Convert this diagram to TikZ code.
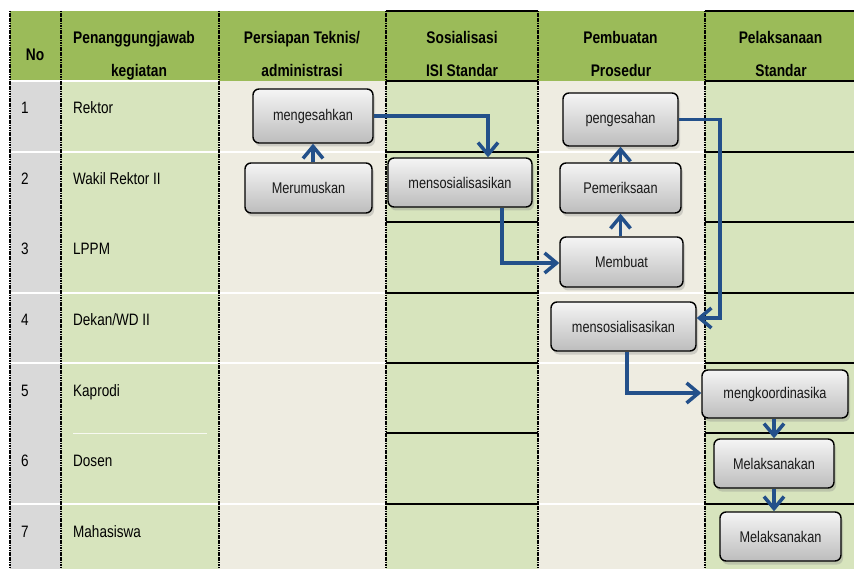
\documentclass[tikz,border=0pt]{standalone}
\usepackage{fontspec}
\setmainfont{Liberation Sans}[FakeStretch=0.82]
\usetikzlibrary{arrows.meta,shadows,calc}
\definecolor{hdrgreen}{HTML}{9BBB59}
\definecolor{lightgreen}{HTML}{D7E4BD}
\definecolor{cream}{HTML}{EEECE1}
\definecolor{greycol}{HTML}{D9D9D9}
\definecolor{flowblue}{HTML}{23508A}

\begin{document}
\begin{tikzpicture}[x=1pt,y=-1pt,
  hdr/.style={font=\bfseries\fontsize{16.8}{18}\selectfont, anchor=base, inner sep=0},
  num/.style={font=\fontsize{16.5}{18}\selectfont, anchor=base, inner sep=0},
  lbl/.style={font=\fontsize{16.5}{18}\selectfont, anchor=base west, inner sep=0},
  stepbox/.style={draw=black, line width=1.4pt, rounded corners=6pt,
    top color=white!96!black, bottom color=black!26,
    drop shadow={shadow xshift=2pt, shadow yshift=-3.5pt, opacity=0.3},
    font=\fontsize{15.5}{17}\selectfont, inner sep=0, text=black!90},
  flow/.style={draw=flowblue, line width=3.5pt, line join=miter,
    -{Straight Barb[length=12pt,width=20pt]}},
  lane/.style={black, line width=1.6pt, dash pattern=on 1.2pt off 0.5pt},
  rowline/.style={white, line width=1.2pt},
  blackrow/.style={black, line width=1.5pt}]

\useasboundingbox (0,0) rectangle (854,569);

% column backgrounds
\fill[greycol]    (10,81)  rectangle (61,569);
\fill[lightgreen] (61,81)  rectangle (219,569);
\fill[cream]      (219,81) rectangle (386,569);
\fill[lightgreen] (386,81) rectangle (538,569);
\fill[cream]      (538,81) rectangle (705,569);
\fill[lightgreen] (705,81) rectangle (854,569);
\fill[hdrgreen]   (10,11)  rectangle (854,81);

% row separators
\draw[rowline] (10,81) -- (219,81);
\foreach \y in {152,293,363,504} {
  \draw[rowline] (10,\y) -- (386,\y);
  \draw[rowline] (538,\y) -- (705,\y);
}
\draw[white, line width=0.8pt, opacity=0.8] (73,433) -- (207,433);
\foreach \y in {11,81,152,222,293,363,433,504} {
  \draw[blackrow] (386,\y) -- (538,\y);
  \draw[blackrow] (705,\y) -- (854,\y);
}

% lane borders
\foreach \x in {10,61,219,386,538,705}
  \draw[lane] (\x,11) -- (\x,569);

% header
\node[hdr] (hNo)   at (35,61)  {No};
\node[hdr] (hPenA) at (134,44) {Penanggungjawab};
\node[hdr] (hPenB) at (139,77) {kegiatan};
\node[hdr] (hPerA) at (302,44) {Persiapan Teknis/};
\node[hdr] (hPerB) at (302,77) {administrasi};
\node[hdr] (hSosA) at (462,44) {Sosialisasi};
\node[hdr] (hSosB) at (462,77) {ISI Standar};
\node[hdr] (hPemA) at (620.5,44) {Pembuatan};
\node[hdr] (hPemB) at (621,77) {Prosedur};
\node[hdr] (hPelA) at (780.5,44) {Pelaksanaan};
\node[hdr] (hPelB) at (781,77) {Standar};

% row numbers and responsible parties
\foreach \n/\y/\t in {1/114/{Rektor}, 2/185/{Wakil Rektor II}, 3/255/{LPPM},
                      4/326/{Dekan/WD II}, 5/396/{Kaprodi}, 6/466/{Dosen},
                      7/537/{Mahasiswa}} {
  \node[num] (no\n) at (25,\y) {\n};
  \node[lbl] (pj\n) at (73,\y) {\t};
}

% process steps
\node[stepbox, minimum width=120pt, minimum height=54pt] (mengesah) at (313,116)   {mengesahkan};
\node[stepbox, minimum width=127pt, minimum height=50pt] (meru)     at (308.5,188) {Merumuskan};
\node[stepbox, minimum width=144pt, minimum height=49pt] (sosA)     at (460,182.5) {mensosialisasikan};
\node[stepbox, minimum width=115pt, minimum height=53pt] (sah)      at (620.5,119.5) {pengesahan};
\node[stepbox, minimum width=121pt, minimum height=50pt] (periksa)  at (620.5,188) {Pemeriksaan};
\node[stepbox, minimum width=123pt, minimum height=50pt] (buat)     at (621.5,262) {Membuat};
\node[stepbox, minimum width=145pt, minimum height=49pt] (sosB)     at (623.5,326.5) {mensosialisasikan};
\node[stepbox, minimum width=146pt, minimum height=48pt] (koord)    at (775,394)   {mengkoordinasika};
\node[stepbox, minimum width=120pt, minimum height=49pt] (laksA)    at (774,463.5) {Melaksanakan};
\node[stepbox, minimum width=121pt, minimum height=49pt] (laksB)    at (780.5,536.5) {Melaksanakan};

% bends of the connectors
\coordinate (k1) at (488,116);
\coordinate (k2) at (502,263);
\coordinate (k3) at (720,318);
\coordinate (k4) at (627,393);

% connectors
\draw[flow] (meru.north -| mengesah.south) -- (mengesah.south);
\draw[flow] (mengesah.east |- k1) -- (k1) -- (k1 |- sosA.north);
\draw[flow] (k2 |- sosA.south) -- (k2) -- (k2 -| buat.west);
\draw[flow] (buat.north -| periksa.south) -- (periksa.south);
\draw[flow] (periksa.north -| sah.south) -- (sah.south);
\draw[flow] (sah.east) -- (sah.east -| k3) -- (k3) -- (k3 -| sosB.east);
\draw[flow] (k4 |- sosB.south) -- (k4) -- (k4 -| koord.west);
\draw[flow] (laksA.north |- koord.south) -- (laksA.north);
\draw[flow] (laksA.south) -- (laksA.south |- laksB.north);
\end{tikzpicture}
\end{document}
